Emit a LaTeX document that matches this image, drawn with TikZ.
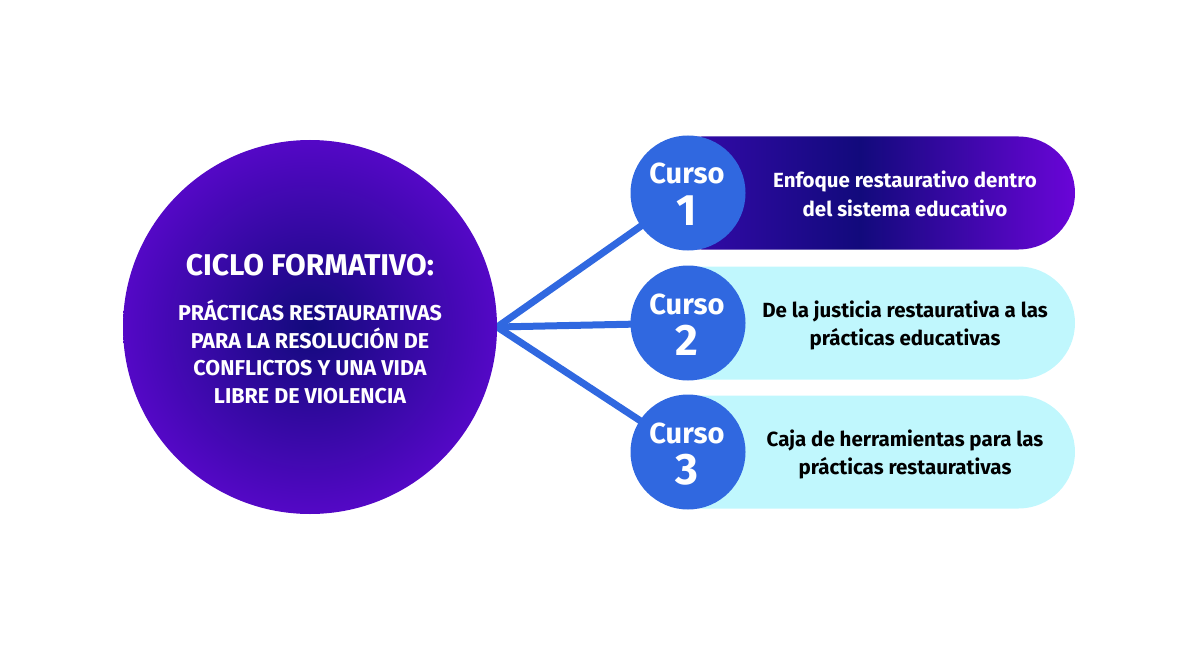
\documentclass[tikz,border=0pt]{standalone}
\usepackage{fontspec}
\setmainfont{Fira Sans}
\usetikzlibrary{backgrounds,shapes.misc}
\definecolor{cblue}{HTML}{3068E0}
\definecolor{ccyan}{HTML}{C0F7FD}
\definecolor{pdark}{HTML}{120A7C}
\definecolor{pedge}{HTML}{5408C6}
\definecolor{pleft}{HTML}{3C0AB4}
\definecolor{pright}{HTML}{6A05D8}
\tikzset{
  bigtxt/.style={text=white,font=\bfseries\fontsize{30}{34}\selectfont,anchor=base,inner sep=0},
  subtxt/.style={text=white,font=\bfseries\fontsize{21.5}{24}\selectfont,anchor=base,inner sep=0},
  pilltxt/.style={font=\bfseries\fontsize{20.5}{24}\selectfont,anchor=base,inner sep=0},
  cursotxt/.style={text=white,font=\bfseries\fontsize{29}{32}\selectfont,anchor=base,inner sep=0},
  numtxt/.style={text=white,font=\bfseries\fontsize{44}{48}\selectfont,anchor=base,inner sep=0},
  pillbox/.style={rounded rectangle,minimum width=430,minimum height=113,inner sep=0},
  cursodisc/.style={circle,fill=cblue,minimum size=115,inner sep=0},
  conn/.style={draw=cblue,line width=7pt}
}
\begin{document}
\begin{tikzpicture}[x=1pt,y=-1pt]
\useasboundingbox (0,0) rectangle (1200,650);
% main circle
\node[circle,minimum size=374,inner sep=0,inner color=pdark,outer color=pedge] (main) at (310,327) {};
\node[bigtxt] (t0) at (310,275) {CICLO FORMATIVO:};
\node[subtxt] (t1) at (310,320.5) {PRÁCTICAS RESTAURATIVAS};
\node[subtxt] (t2) at (310,348) {PARA LA RESOLUCIÓN DE};
\node[subtxt] (t3) at (310,375.5) {CONFLICTOS Y UNA VIDA};
\node[subtxt] (t4) at (310,403) {LIBRE DE VIOLENCIA};
% pills
\node[pillbox,left color=pleft,right color=pright,middle color=pdark] (p1) at (860,193) {};
\node[pillbox,fill=ccyan] (p2) at (860,323) {};
\node[pillbox,fill=ccyan] (p3) at (860,452) {};
% curso discs
\node[cursodisc] (c1) at (688,193) {};
\node[cursodisc] (c2) at (688,323) {};
\node[cursodisc] (c3) at (688,452) {};
\foreach \i/\y in {1/193,2/323,3/452}{
  \node[cursotxt] (cu\i) at (687,\y-9) {Curso};
  \node[numtxt] (n\i) at (687,\y+32) {\i};
}
% pill texts
\node[pilltxt,text=white] (a1) at (905,188) {Enfoque restaurativo dentro};
\node[pilltxt,text=white] (b1) at (905,216) {del sistema educativo};
\node[pilltxt,text=black] (a2) at (905,317) {De la justicia restaurativa a las};
\node[pilltxt,text=black] (b2) at (905,345.5) {prácticas educativas};
\node[pilltxt,text=black] (a3) at (905,446) {Caja de herramientas para las};
\node[pilltxt,text=black] (b3) at (905,474.5) {prácticas restaurativas};
% connectors
\begin{pgfonlayer}{background}
\draw[conn] (main.east) -- (c1.center);
\draw[conn] (main.east) -- (c2.center);
\draw[conn] (main.east) -- (c3.center);
\end{pgfonlayer}
\end{tikzpicture}
\end{document}
